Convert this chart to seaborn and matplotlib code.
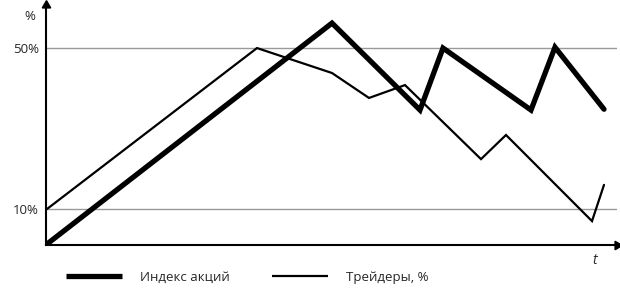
import matplotlib
matplotlib.use("Agg")
import matplotlib.pyplot as plt
import seaborn as sns
import pandas as pd

# Data (time in arbitrary units, values in %)
index_t = [1, 286, 374, 397, 485, 509, 558]
index_v = [1.3, 56.2, 34.6, 50.0, 34.6, 50.2, 34.8]
traders_t = [1, 211, 286, 323, 359, 435, 460, 546, 558]
traders_v = [10.0, 50.0, 43.8, 37.6, 40.8, 22.4, 28.4, 7.0, 16.0]
ytick_vals = [10, 50]
ytick_labels = ["10%", "50%"]
series_names = ["Индекс акций", "Трейдеры, %"]

sns.set_theme(style="white")
plt.rcParams['font.family'] = ['Open Sans', 'DejaVu Sans']

fig = plt.figure(figsize=(6.2, 2.97), dpi=100)
ax = fig.add_axes([46/620, 1-245/297, 571/620, 240/297])

df_i = pd.DataFrame({"t": index_t, "v": index_v})
df_tr = pd.DataFrame({"t": traders_t, "v": traders_v})

for y in ytick_vals:
    ax.axhline(y, color="#999999", lw=1.0, zorder=1)

sns.lineplot(data=df_i, x="t", y="v", ax=ax, color="black", lw=3.8,
             label=series_names[0], zorder=3, sort=False)
sns.lineplot(data=df_tr, x="t", y="v", ax=ax, color="black", lw=1.6,
             label=series_names[1], zorder=3, sort=False)
for ln in ax.get_lines():
    ln.set_solid_joinstyle("miter")

ax.set_xlim(0, 571)
ax.set_ylim(1.06, 60.7)
ax.set_xticks([])
ax.set_yticks(ytick_vals)
ax.set_yticklabels(ytick_labels, fontsize=9.5)
ax.tick_params(axis="y", length=0, pad=5)
ax.set_xlabel("")
ax.set_ylabel("")
for s in ["top", "right"]:
    ax.spines[s].set_visible(False)
for s in ["left", "bottom"]:
    ax.spines[s].set_color("black")
    ax.spines[s].set_linewidth(1.5)

# axis arrows
ax.plot(0, 1, marker=(3, 0, 0), color="black", markersize=7, transform=ax.transAxes, clip_on=False)
ax.plot(1, 0, marker=(3, 0, -90), color="black", markersize=7, transform=ax.transAxes, clip_on=False)
fig.text(30/620, 1-17/297, "%", fontsize=9.5, ha="center", va="center")
fig.text(595/620, 1-261/297, "t", fontsize=10, style="italic", ha="center", va="center")

leg = ax.legend(loc="center left", bbox_to_anchor=(54/620, 1-277/297),
                bbox_transform=fig.transFigure, ncol=2, frameon=False,
                fontsize=9.5, handlelength=4.25, handletextpad=1.35,
                columnspacing=3.2)
for h in leg.get_lines():
    h.set_solid_capstyle("butt")

fig.savefig("out.png", dpi=100)
